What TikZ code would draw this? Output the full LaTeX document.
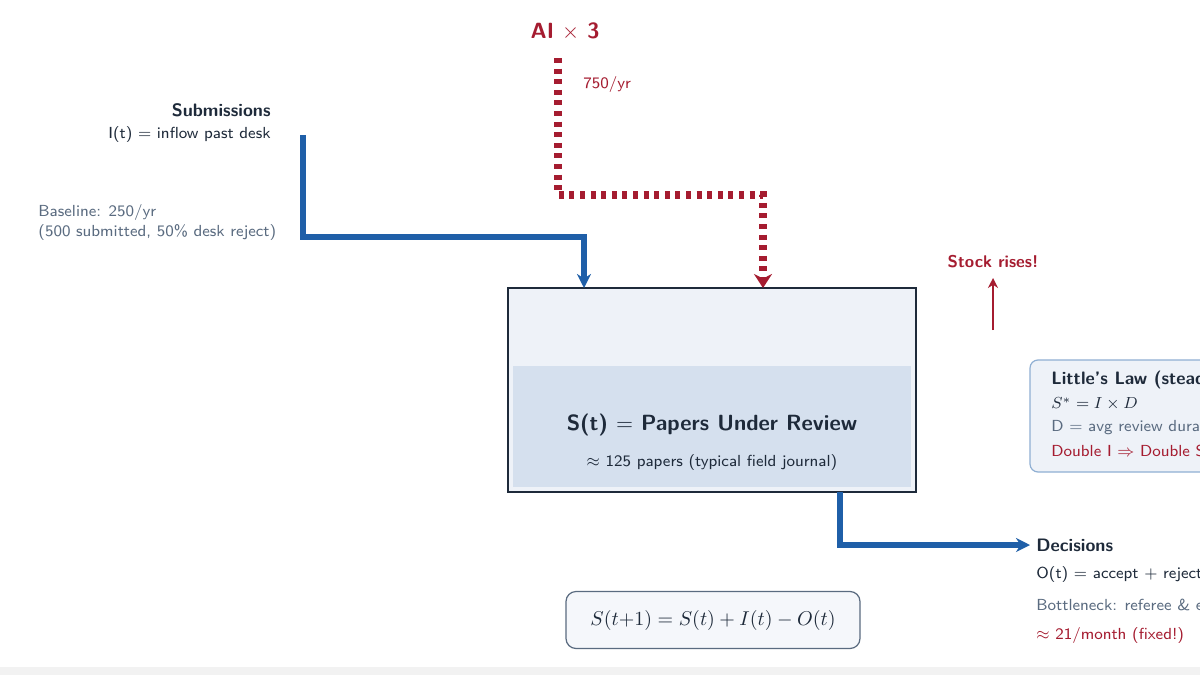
\documentclass[tikz,border=0pt]{standalone}
\usepackage{amsmath,amssymb}
\renewcommand\familydefault{\sfdefault}
\usetikzlibrary{arrows.meta}
\definecolor{flowblue}{HTML}{1F5FA8}
\definecolor{aired}{HTML}{A51C30}
\definecolor{navy}{HTML}{1E2A3A}
\definecolor{slate}{HTML}{5A6B80}
\definecolor{boxfill}{HTML}{EEF2F8}
\definecolor{band}{HTML}{D5E0EE}
\begin{document}
\begin{tikzpicture}[x=0.5pt,y=-0.5pt,
  flow/.style={line width=2.6pt,flowblue,-{Stealth[length=7pt,width=7pt]}},
  aiflow/.style={line width=4pt,aired,dash pattern=on 2.5pt off 2.8pt,-{Stealth[length=7pt,width=9pt]}},
  lbl/.style={inner sep=0pt,font=\fontsize{8}{9}\selectfont},
  hd/.style={lbl,font=\fontsize{9}{10}\selectfont\bfseries,text=navy}]
\useasboundingbox (0,0) rectangle (1200,675);
\fill[white] (0,0) rectangle (1200,675);
\fill[black!5] (0,667) rectangle (1200,675);
% main stock
\node[draw=navy,line width=0.8pt,fill=boxfill,minimum width=204pt,minimum height=102pt,inner sep=0pt] (S) at (712,390) {};
\fill[band] (513,366) rectangle (911,487);
\node[lbl,font=\fontsize{11}{12}\selectfont\bfseries,text=navy] (St) at (712,425) {S(t) $=$ Papers Under Review};
\node[lbl,text=navy] (Ss) at (712,462) {$\approx$ 125 papers (typical field journal)};
% inflow
\coordinate (in0) at (303,135);
\coordinate (in1) at (584,288);
\draw[flow] (in0) |- (440,237) -| (in1);
\node[hd,anchor=east] (sub) at (271,110) {Submissions};
\node[lbl,anchor=east,text=navy] (sub2) at (271,134) {I(t) $=$ inflow past desk};
\node[lbl,anchor=west,text=slate,align=left] (base) at (38,222) {Baseline: 250/yr\\[1pt](500 submitted, 50\% desk reject)};
% AI flow
\node[lbl,font=\fontsize{11}{12}\selectfont\bfseries,text=aired] (ai) at (565,32) {AI $\times$ 3};
\coordinate (ai0) at (558,58);
\coordinate (ai1) at (763,288);
\draw[aiflow] (ai0) |- (660,195) -| (ai1);
\node[lbl,anchor=west,text=aired] (rate) at (583,84) {750/yr};
% stock rises
\node[lbl,font=\fontsize{8.5}{9}\selectfont\bfseries,text=aired] (rise) at (993,262) {Stock rises!};
\coordinate (r0) at (993,330);
\draw[aired,line width=1pt,-{Stealth[length=5pt,width=5pt]}] (r0) -- (rise.south |- 0,278);
% outflow
\coordinate (out0) at (840,492);
\coordinate (out1) at (1030,545);
\draw[flow] (out0) |- (out1);
\node[hd,anchor=west] (dec) at (1036,545) {Decisions};
\node[lbl,anchor=west,text=navy] (d2) at (1036,574) {O(t) $=$ accept $+$ reject};
\node[lbl,anchor=west,text=slate] (d3) at (1036,605) {Bottleneck: referee \& editor time};
\node[lbl,anchor=west,text=aired] (d4) at (1036,635) {$\approx$ 21/month (fixed!)};
% Little's law
\draw[draw=flowblue!50,fill=boxfill,rounded corners=4pt,line width=0.6pt] (1030,360) rectangle (1300,472);
\node[hd,anchor=west] (ll) at (1051,380) {Little's Law (steady state)};
\node[lbl,anchor=west,text=navy] (l2) at (1051,404) {$S^{*} = I \times D$};
\node[lbl,anchor=west,text=slate] (l3) at (1051,428) {D $=$ avg review duration};
\node[lbl,anchor=west,text=aired] (l4) at (1051,451) {Double I $\Rightarrow$ Double S$^*$};
% equation
\node[draw=slate,line width=0.6pt,fill=boxfill!60,rounded corners=5pt,minimum width=147pt,minimum height=28.5pt,font=\fontsize{10}{11}\selectfont,text=navy] (eq) at (713,620) {$S(t{+}1) = S(t) + I(t) - O(t)$};
\end{tikzpicture}
\end{document}
